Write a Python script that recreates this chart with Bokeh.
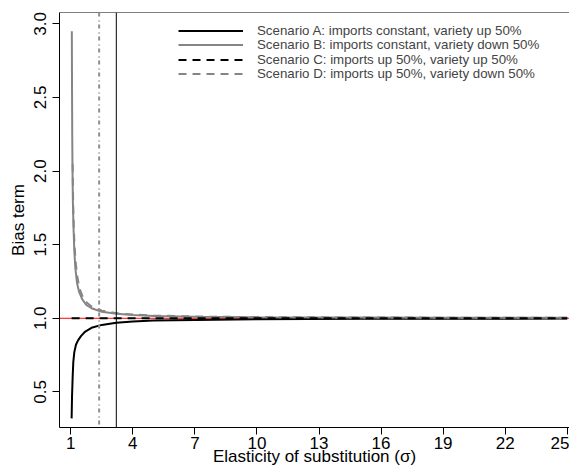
from bokeh.plotting import figure
from bokeh.models import Range1d, FixedTicker, Span, Legend, LegendItem
from bokeh.embed import file_html
from bokeh.resources import INLINE

# ---- data ----
sigma_a = [1.04, 1.06, 1.09, 1.12, 1.17, 1.25, 1.35, 1.5, 1.7, 2.0, 2.5, 3.2, 4, 5, 7, 10, 15, 20, 25]
bias_a = [0.32, 0.47, 0.60, 0.70, 0.77, 0.82, 0.85, 0.88, 0.91, 0.935, 0.955, 0.97, 0.978, 0.984, 0.989, 0.993, 0.996, 0.997, 0.998]

sigma_b = [1.05, 1.06, 1.07, 1.08, 1.10, 1.13, 1.17, 1.22, 1.30, 1.40, 1.55, 1.75, 2.0, 2.5, 3.2, 4, 5, 7, 10, 15, 20, 25]
bias_b = [2.95, 2.55, 2.25, 2.05, 1.80, 1.62, 1.46, 1.34, 1.24, 1.18, 1.13, 1.09, 1.068, 1.044, 1.03, 1.022, 1.016, 1.011, 1.007, 1.005, 1.003, 1.003]

sigma_c = [1.04, 25]
bias_c = [1.0, 1.0]

sigma_d = [1.09, 1.10, 1.12, 1.15, 1.19, 1.25, 1.33, 1.43, 1.58, 1.78, 2.0, 2.5, 3.2, 4, 5, 7, 10, 15, 20, 25]
bias_d = [2.05, 1.92, 1.75, 1.60, 1.47, 1.36, 1.27, 1.20, 1.145, 1.105, 1.08, 1.052, 1.035, 1.025, 1.019, 1.012, 1.008, 1.005, 1.004, 1.003]

labels = ["Scenario A: imports constant, variety up 50%",
          "Scenario B: imports constant, variety down 50%",
          "Scenario C: imports up 50%, variety up 50%",
          "Scenario D: imports up 50%, variety down 50%"]

x_ticks = [1, 4, 7, 10, 13, 16, 19, 22, 25]
y_ticks = [0.5, 1.0, 1.5, 2.0, 2.5, 3.0]
y_tick_labels = ["0.5", "1.0", "1.5", "2.0", "2.5", "3.0"]

ref_line = 1.0
vline_dotdash = 2.37
vline_solid = 3.2

x_min, x_max = 0.454, 25.11
y_min, y_max = 0.258, 3.077

FONT = "Liberation Sans"
GRAY = "#858585"
FS = "17px"

W, H = 569, 468
BL, BT, BB = 59, 12, 40
FRAME_H = H - BT - BB

p = figure(width=W, height=H, output_backend="svg", toolbar_location=None,
           x_range=Range1d(x_min, x_max), y_range=Range1d(y_min, y_max),
           min_border_left=BL, min_border_right=0, min_border_top=BT, min_border_bottom=BB)
p.outline_line_color = None
p.xgrid.visible = False
p.ygrid.visible = False
p.background_fill_color = "white"

for ax in (p.xaxis[0], p.yaxis[0]):
    ax.axis_line_color = "black"
    ax.axis_line_width = 1
    ax.major_tick_in = 0
    ax.major_tick_out = 7
    ax.major_tick_line_color = "black"
    ax.minor_tick_line_color = None
    ax.major_label_text_font = FONT
    ax.major_label_text_font_size = FS
    ax.major_label_text_color = "black"
    ax.axis_label_text_font = FONT
    ax.axis_label_text_font_size = FS
    ax.axis_label_text_font_style = "normal"
    ax.axis_label_text_color = "black"

p.xaxis.ticker = FixedTicker(ticks=x_ticks)
p.yaxis.ticker = FixedTicker(ticks=y_ticks)
p.yaxis.major_label_overrides = {t: l for t, l in zip(y_ticks, y_tick_labels)}
p.yaxis.major_label_orientation = "vertical"
p.xaxis.axis_label = "Elasticity of substitution (σ)"
p.yaxis.axis_label = "Bias term"
p.xaxis.major_label_standoff = 2
p.xaxis.axis_label_standoff = -5
p.yaxis.major_label_standoff = 6
p.yaxis.axis_label_standoff = 4

# top frame border
p.add_layout(Span(location=y_max, dimension="width", line_color="black", line_width=1))

# reference lines
red = Span(location=ref_line, dimension="width", line_color="red", line_width=1)
red.level = "underlay"
p.add_layout(red)
p.add_layout(Span(location=vline_dotdash, dimension="height", line_color="#8f8f8f",
                  line_width=2, line_dash="4 4 1 3"))
p.add_layout(Span(location=vline_solid, dimension="height", line_color="black", line_width=1))

ra = p.line(sigma_a, bias_a, line_color="black", line_width=2)
rb = p.line(sigma_b, bias_b, line_color=GRAY, line_width=2)
rd = p.line(sigma_d, bias_d, line_color=GRAY, line_width=2, line_dash="8 6")
rc = p.line(sigma_c, bias_c, line_color="black", line_width=2, line_dash="8 6")

# legend: one row per Legend so the row spacing can follow the reference
row_centers = [31.4, 46.0, 60.6, 75.2]   # px from top of picture
row_h = 14.3
for lab, r, c in zip(labels, [ra, rb, rc, rd], row_centers):
    lg = Legend(items=[LegendItem(label=lab, renderers=[r])],
                location=(178 - BL, FRAME_H - (c - BT) - row_h / 2))
    lg.label_text_font = FONT
    lg.label_text_font_size = "13.3px"
    lg.label_standoff = 14
    lg.glyph_width = 65
    lg.glyph_height = 13
    lg.label_height = 13
    lg.spacing = 0
    lg.padding = 0
    lg.margin = 0
    lg.border_line_color = None
    lg.background_fill_alpha = 0
    p.add_layout(lg)

open("out.html", "w").write(file_html(p, INLINE))
